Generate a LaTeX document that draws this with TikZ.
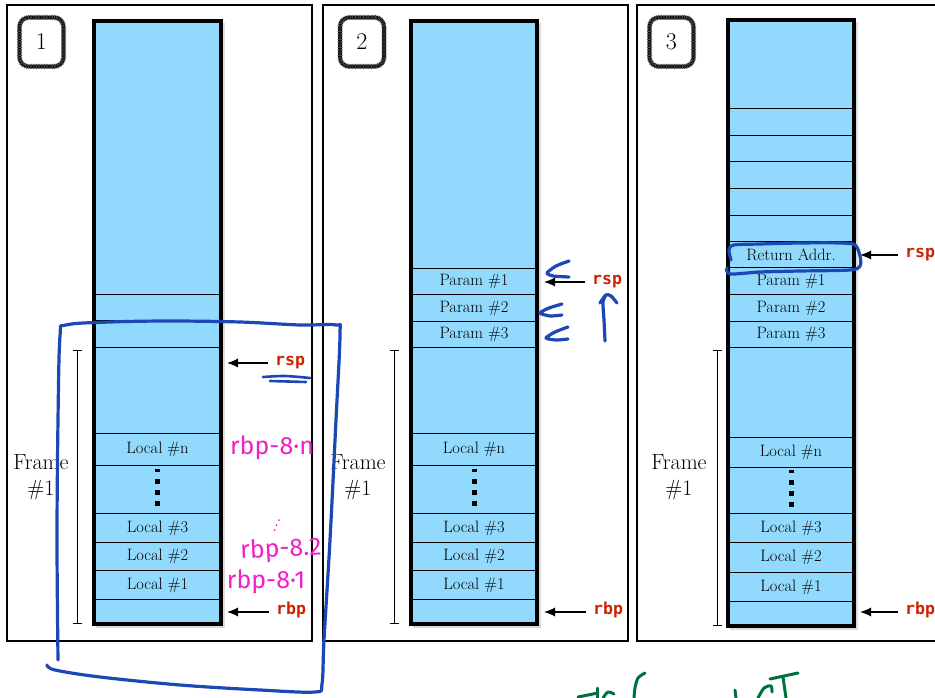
\documentclass[tikz,border=0pt]{standalone}
\usepackage{fontspec}
\newfontfamily\regfont{DejaVu Sans Mono}
\newfontfamily\handfont{Fira Sans}
\usetikzlibrary{arrows.meta}
\definecolor{stackblue}{RGB}{146,218,253}
\definecolor{regred}{RGB}{204,34,0}
\definecolor{inkblue}{RGB}{28,72,182}
\definecolor{inkpink}{RGB}{240,32,200}
\definecolor{inkgreen}{RGB}{0,112,62}

\begin{document}
\begin{tikzpicture}[x=1pt,y=-1pt,
  panel/.style={draw=black,line width=1.3pt},
  column/.style={draw=black,line width=3.6pt},
  shade/.style={fill=black!14},
  cell/.style={draw=black,line width=1.1pt,fill=stackblue,minimum width=126pt,inner sep=0pt,anchor=north,font=\fontsize{16.5}{18}\selectfont},
  badge/.style={draw=black,line width=3.6pt,rounded corners=9pt,minimum width=44pt,minimum height=49pt,inner sep=0pt,font=\fontsize{24}{26}\selectfont,
    postaction={draw=black!70,line width=5pt,dash pattern=on 0.7pt off 0.9pt}},
  frm/.style={align=center,inner sep=0pt,font=\fontsize{22}{26}\selectfont},
  brk/.style={{Bar[width=9pt]}-{Bar[width=9pt]},line width=0.9pt},
  reg/.style={anchor=west,inner sep=0pt,text height=1.1ex,text depth=0pt,text=regred,font=\regfont\bfseries\fontsize{16.5}{18}\selectfont},
  ptr/.style={-{Latex[length=11pt,width=9pt]},line width=1.1pt,dash pattern=on 1.6pt off 0.4pt,shorten <=7pt},
  ink/.style={draw=inkblue,line width=3.2pt,line cap=round,line join=round},
  hand/.style={inner sep=0pt,text=inkpink,font=\handfont\fontsize{25}{27}\selectfont},
  green/.style={draw=inkgreen,line width=3pt,line cap=round,line join=round}]
\useasboundingbox (0,0) rectangle (935,698);
\clip (0,0) rectangle (935,698);

% panel frames
\draw[panel] (7,5) rectangle (312,641);
\draw[panel] (323,5) rectangle (628,641);
\draw[panel] (637,5) rectangle (950,641);
\node[badge] (n1) at (41.5,42) {1};
\node[badge] (n2) at (362,42) {2};
\node[badge] (n3) at (671.5,42) {3};

% panel 1
\fill[shade] (96,23) rectangle (225,628);
\node[cell,minimum width=127pt,minimum height=273pt] (top1) at (157.5,21) {};
\node[cell,minimum width=127pt,minimum height=26pt] (e1a) at (157.5,294) {};
\node[cell,minimum width=127pt,minimum height=27pt] (e1b) at (157.5,320) {};
\node[cell,minimum width=127pt,minimum height=86pt] (gap1) at (157.5,347) {};
\node[cell,minimum width=127pt,minimum height=32pt] (ln1) at (157.5,433) {Local \#n};
\node[cell,minimum width=127pt,minimum height=48pt] (dt1) at (157.5,465) {};
\node[cell,minimum width=127pt,minimum height=29pt] (l31) at (157.5,513) {Local \#3};
\node[cell,minimum width=127pt,minimum height=28pt] (l21) at (157.5,542) {Local \#2};
\node[cell,minimum width=127pt,minimum height=29pt] (l11) at (157.5,570) {Local \#1};
\node[cell,minimum width=127pt,minimum height=25pt] (bt1) at (157.5,599) {};
\draw[column] (94,21) rectangle (221,624);
\draw[brk] (77,350) -- (77,624);
\node[frm] (fr1) at (41,477) {Frame\\\#1};
\node[reg] (rsp1) at (275,363) {rsp};
\node[reg] (rbp1) at (276,612) {rbp};
\coordinate (t1s) at (227,363);
\coordinate (t1b) at (227,612);
\draw[ptr] (rsp1.west) -- (t1s);
\draw[ptr] (rbp1.west) -- (t1b);

% panel 2
\fill[shade] (413,23) rectangle (541,628);
\node[cell,minimum height=247pt] (top2) at (474,21) {};
\node[cell,minimum height=26pt] (p12) at (474,268) {Param \#1};
\node[cell,minimum height=27pt] (p22) at (474,294) {Param \#2};
\node[cell,minimum height=26pt] (p32) at (474,321) {Param \#3};
\node[cell,minimum height=86pt] (gap2) at (474,347) {};
\node[cell,minimum height=32pt] (ln2) at (474,433) {Local \#n};
\node[cell,minimum height=48pt] (dt2) at (474,465) {};
\node[cell,minimum height=29pt] (l32) at (474,513) {Local \#3};
\node[cell,minimum height=28pt] (l22) at (474,542) {Local \#2};
\node[cell,minimum height=29pt] (l12) at (474,570) {Local \#1};
\node[cell,minimum height=25pt] (bt2) at (474,599) {};
\draw[column] (411,21) rectangle (537,624);
\draw[brk] (394,350) -- (394,624);
\node[frm] (fr2) at (358,477) {Frame\\\#1};
\node[reg] (rsp2) at (592,282) {rsp};
\node[reg] (rbp2) at (593,612) {rbp};
\coordinate (t2s) at (544,282);
\coordinate (t2b) at (544,612);
\draw[ptr] (rsp2.west) -- (t2s);
\draw[ptr] (rbp2.west) -- (t2b);

% panel 3
\fill[shade] (730,22) rectangle (858,630);
\node[cell,minimum height=88pt] (top3) at (791,20) {};
\node[cell,minimum height=27pt] (e3a) at (791,108) {};
\node[cell,minimum height=26pt] (e3b) at (791,135) {};
\node[cell,minimum height=27pt] (e3c) at (791,161) {};
\node[cell,minimum height=27pt] (e3d) at (791,188) {};
\node[cell,minimum height=26pt] (e3e) at (791,215) {};
\node[cell,minimum height=26pt] (ra3) at (791,241) {Return Addr.};
\node[cell,minimum height=27pt] (p13) at (791,267) {Param \#1};
\node[cell,minimum height=27pt] (p23) at (791,294) {Param \#2};
\node[cell,minimum height=26pt] (p33) at (791,321) {Param \#3};
\node[cell,minimum height=90pt] (gap3) at (791,347) {};
\node[cell,minimum height=30pt] (ln3) at (791,437) {Local \#n};
\node[cell,minimum height=46pt] (dt3) at (791,467) {};
\node[cell,minimum height=29pt] (l33) at (791,513) {Local \#3};
\node[cell,minimum height=30pt] (l23) at (791,542) {Local \#2};
\node[cell,minimum height=29pt] (l13) at (791,572) {Local \#1};
\node[cell,minimum height=25pt] (bt3) at (791,601) {};
\draw[column] (728,20) rectangle (854,626);
\draw[brk] (717,350) -- (717,626);
\node[frm] (fr3) at (679,477) {Frame\\\#1};
\node[reg] (rsp3) at (905,255) {rsp};
\node[reg] (rbp3) at (905,612) {rbp};
\coordinate (t3s) at (860,255);
\coordinate (t3b) at (860,612);
\draw[ptr] (rsp3.west) -- (t3s);
\draw[ptr] (rbp3.west) -- (t3b);

% dots
\foreach \cx/\dy in {157.5/0,474.5/0,791.5/1.5} {
  \fill (\cx-2.5,468.5+\dy) rectangle (\cx+2.5,471.5+\dy);
  \foreach \y in {481,492,503}
    \fill (\cx-2.5,\y-2.5+\dy) rectangle (\cx+2.5,\y+2.5+\dy);
}

% hand-written notes
\draw[ink] plot[smooth,tension=0.55] coordinates {(58,660) (57,540) (58,420) (60,336) (66,325) (110,322) (170,321) (240,322) (300,325) (336,325) (340,334) (336,420) (330,540) (324,640) (322,684) (315,692) (260,690) (180,685) (100,677) (55,670) (47,665)};
\draw[ink,line width=2.6pt] plot[smooth] coordinates {(263,377) (285,376) (310,378)};
\draw[ink,line width=2.6pt] (270,381) -- (306,382);
\draw[ink] plot[smooth,tension=0.4] coordinates {(569,261) (556,266) (547,273) (553,276) (569,277)};
\draw[ink] plot[smooth,tension=0.4] coordinates {(562,304) (549,308) (540,313) (550,316) (562,315)};
\draw[ink] plot[smooth,tension=0.4] coordinates {(568,327) (555,332) (546,338) (556,340) (568,339)};
\draw[ink] plot[smooth,tension=0.5] coordinates {(605,341) (604,320) (603,302) (606,295)};
\draw[ink] plot[smooth,tension=0.5] coordinates {(600,303) (606,295) (611,296) (617,303)};
\draw[ink] plot[smooth,tension=0.5] coordinates {(731,260) (729,250) (734,245) (760,244) (800,243) (840,243) (855,245) (860,256) (860,266) (850,270) (800,271) (760,272) (730,274) (727,268)};
\node[hand] (an) at (272,448) {rbp-8·n};
\node[hand,rotate=3] (a2) at (281,550) {rbp-8.2};
\node[hand] (a1) at (266,582) {rbp-8·1};
\foreach \px/\py in {274.5/530,276.5/525,279/520}
  \fill[inkpink] (\px,\py) circle (1);
\draw[green] (578,697) -- (598,693);
\draw[green] (597,688) -- (597,698);
\draw[green] plot[smooth] coordinates {(603,698) (608,692) (614,694)};
\draw[green] plot[smooth] coordinates {(645,673) (638,678) (635,688) (634,698)};
\draw[green] (735,690) -- (736,698);
\draw[green] plot[smooth] coordinates {(758,698) (764,688) (771,686) (772,692)};
\draw[green] (770,679) -- (798,673);
\draw[green] (783,677) -- (786,698);
\end{tikzpicture}
\end{document}
